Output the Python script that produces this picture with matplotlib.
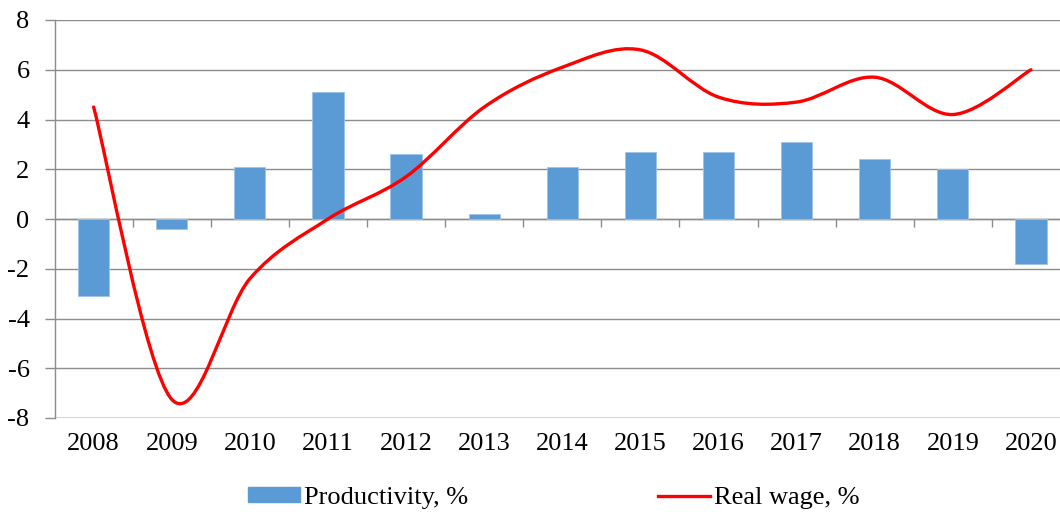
import numpy as np
import matplotlib
matplotlib.use("Agg")
import matplotlib.pyplot as plt
from matplotlib.path import Path
from matplotlib.patches import PathPatch
from matplotlib.lines import Line2D
from matplotlib.patches import Patch

years = ["2008", "2009", "2010", "2011", "2012", "2013", "2014",
         "2015", "2016", "2017", "2018", "2019", "2020"]
productivity = [-3.1, -0.4, 2.1, 5.1, 2.6, 0.2, 2.1, 2.7, 2.7, 3.1, 2.4, 2.0, -1.8]
real_wage = [4.5, -7.25, -2.4, 0.0, 1.7, 4.5, 6.1, 6.8, 4.9, 4.7, 5.7, 4.2, 6.0]
yticks = [-8, -6, -4, -2, 0, 2, 4, 6, 8]

plt.rcParams['font.family'] = ['Liberation Serif', 'DejaVu Serif']

BAR = "#5B9BD5"
GRID = "#8C8C8C"
FS = 19

fig = plt.figure(figsize=(10.6, 5.15), dpi=100)
ax = fig.add_axes([54.6/1060, 1 - 418/515, (1070 - 54.6)/1060, (418 - 20)/515])

x = np.arange(len(years))
ax.bar(x, productivity, width=0.4, color=BAR, edgecolor="#9DC3E6", linewidth=0.6, zorder=2)

# Excel-style smoothed line (Catmull-Rom as cubic Bezier)
pts = np.column_stack([x, real_wage]).astype(float)
n = len(pts)
verts = [pts[0]]
codes = [Path.MOVETO]
for i in range(n - 1):
    p_prev = pts[i - 1] if i > 0 else pts[i]
    p0 = pts[i]
    p1 = pts[i + 1]
    p_next = pts[i + 2] if i + 2 < n else pts[i + 1]
    c1 = p0 + (p1 - p_prev) / 6.0
    c2 = p1 - (p_next - p0) / 6.0
    verts += [c1, c2, p1]
    codes += [Path.CURVE4] * 3
ax.add_patch(PathPatch(Path(verts, codes), facecolor="none", edgecolor="#FF0000",
                       linewidth=2.4, capstyle="round", zorder=3))

ax.set_xlim(-0.5, len(years) - 0.5)
ax.set_ylim(-8, 8)
ax.set_yticks(yticks)
ax.set_yticklabels([str(v) for v in yticks])
ax.set_xticks(x)
ax.set_xticklabels(years)

ax.grid(axis="y", color=GRID, linewidth=1.0, zorder=1)
ax.set_axisbelow(True)
for s in ["top", "right", "bottom"]:
    ax.spines[s].set_visible(False)
ax.spines["left"].set_color(GRID)
ax.spines["left"].set_linewidth(1.0)

ax.tick_params(axis="y", direction="out", length=7, width=1.0, color=GRID,
               labelsize=FS, pad=11)
ax.tick_params(axis="x", length=0, labelsize=FS, pad=11)

# zero axis line with category-boundary tick marks
ax.axhline(0, color=GRID, linewidth=1.0, zorder=1.5)
bounds = np.arange(len(years) + 1) - 0.5
ax.vlines(bounds[1:-1], -0.32, 0, color=GRID, linewidth=1.0, zorder=1.5)
ax.axhline(-8, color=GRID, linewidth=1.0, zorder=1.5)

handles = [Patch(facecolor=BAR, edgecolor=BAR),
           Line2D([0], [0], color="#FF0000", linewidth=2.4)]
fig.legend(handles, ["Productivity, %", "Real wage, %"], loc="center",
           bbox_to_anchor=(0.522, 1 - 498/515), ncol=2, frameon=False,
           fontsize=FS, handlelength=2.0, handleheight=0.5, handletextpad=0.12,
           columnspacing=7.2, borderaxespad=0)

fig.savefig("out.png", dpi=100)
